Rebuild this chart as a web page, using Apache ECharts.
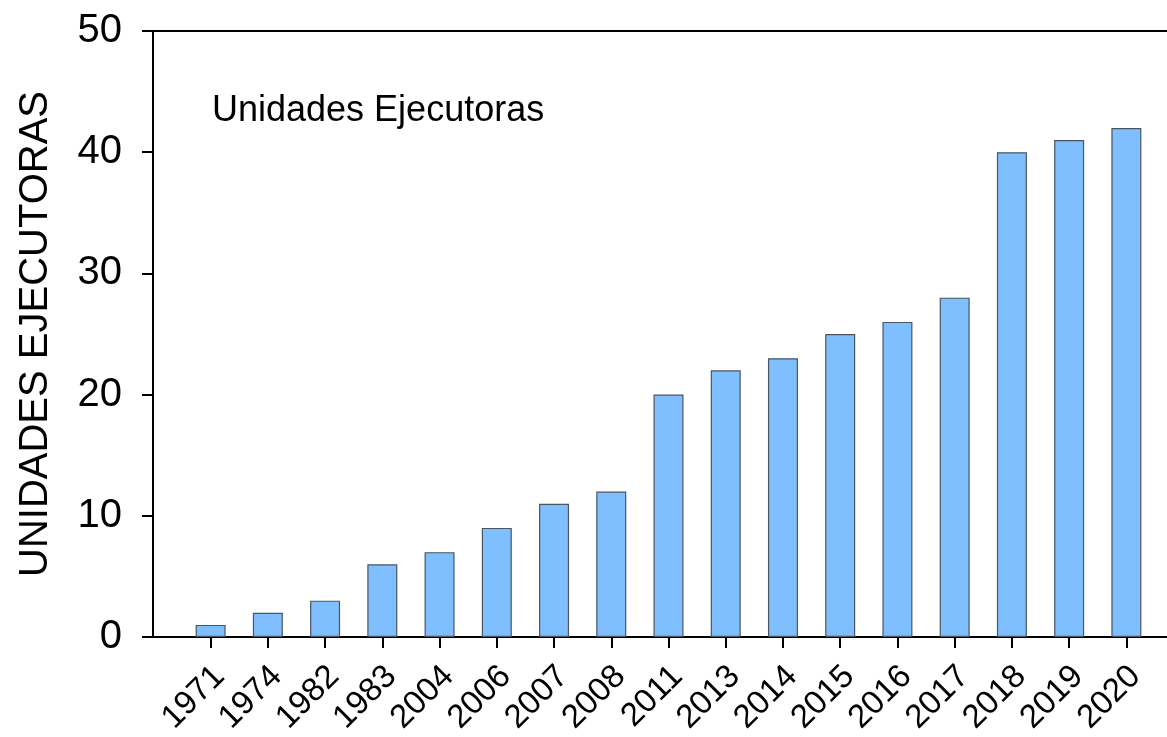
<!DOCTYPE html>
<html>
<head>
<meta charset="utf-8">
<script src="https://cdn.jsdelivr.net/npm/echarts@6/dist/echarts.min.js"></script>
<style>
html,body{margin:0;padding:0;background:#fff;}
#chart{width:1167px;height:737px;}
</style>
</head>
<body>
<div id="chart"></div>
<script>
const years = ['1971','1974','1982','1983','2004','2006','2007','2008','2011','2013','2014','2015','2016','2017','2018','2019','2020'];
const unidades = [1,2,3,6,7,9,11,12,20,22,23,25,26,28,40,41,42];
const yTicks = {min:0, max:50, interval:10};
const yTitle = 'UNIDADES EJECUTORAS';
const annotation = 'Unidades Ejecutoras';

const FONT = '"Liberation Sans", Arial, Helvetica, sans-serif';
const chart = echarts.init(document.getElementById('chart'), null, {renderer:'canvas'});
const frameAxis = pos => ({
  gridIndex:1, type:'value', position:pos, min:0, max:1,
  axisLine:{show:true, lineStyle:{color:'#000', width:2}},
  axisTick:{show:false}, axisLabel:{show:false}, splitLine:{show:false}
});
chart.setOption({
  animation:false,
  backgroundColor:'#fff',
  title:{
    text:annotation, left:207, top:88,
    textStyle:{fontFamily:FONT, fontSize:36, fontWeight:'normal', color:'#000'}
  },
  grid:[
    {left:182, right:12, top:31, bottom:100},
    {left:153, right:0, top:31, bottom:100},
    {left:191, right:3, top:31, bottom:100}
  ],
  xAxis:[
    {
      gridIndex:0, type:'category', data:years,
      axisLine:{show:false},
      axisTick:{show:true, alignWithLabel:true, length:11, lineStyle:{color:'#000', width:2}},
      axisLabel:{show:false}
    },
    frameAxis('bottom'),
    frameAxis('top'),
    {
      gridIndex:2, type:'category', data:years,
      axisLine:{show:false}, axisTick:{show:false},
      axisLabel:{rotate:45, margin:36, fontFamily:FONT, fontSize:33, color:'#000', interval:0}
    }
  ],
  yAxis:[
    {gridIndex:0, type:'value', min:yTicks.min, max:yTicks.max, show:false},
    {
      gridIndex:1, type:'value', min:yTicks.min, max:yTicks.max, interval:yTicks.interval,
      axisLine:{show:true, lineStyle:{color:'#000', width:2}},
      axisTick:{show:true, length:11, lineStyle:{color:'#000', width:2}},
      axisLabel:{margin:31, fontFamily:FONT, fontSize:40, color:'#000'},
      splitLine:{show:false},
      name:yTitle, nameLocation:'middle', nameRotate:90, nameGap:97,
      nameTextStyle:{fontFamily:FONT, fontSize:40, color:'#000'}
    },
    {gridIndex:2, type:'value', min:yTicks.min, max:yTicks.max, show:false}
  ],
  series:[{
    type:'bar', xAxisIndex:0, yAxisIndex:0, data:unidades, barWidth:30,
    itemStyle:{color:'#80bfff', borderColor:'#4a5560', borderWidth:1.2}
  }]
});
</script>
</body>
</html>
